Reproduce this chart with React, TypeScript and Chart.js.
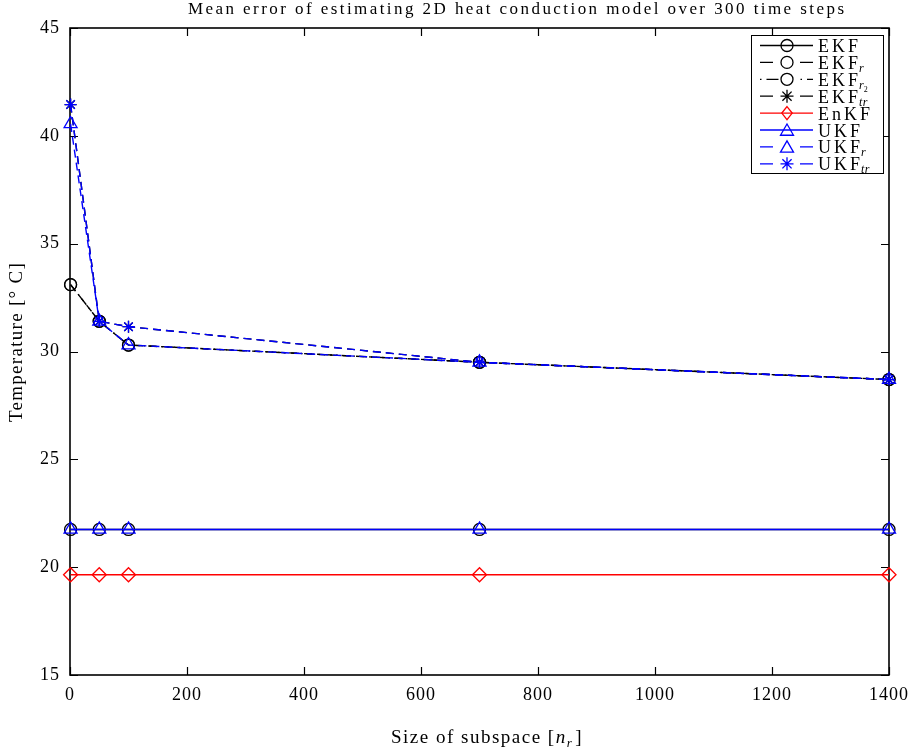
import React, { useEffect, useRef } from "react";
import { Chart, registerables } from "chart.js";

Chart.register(...registerables);

// Subspace sizes on the x axis
const subspaceSizes = [1, 50, 100, 700, 1400];

// Mean estimation error per filter
const ekf = [21.75, 21.75, 21.75, 21.75, 21.75];
const ekfR = [33.1, 31.4, 30.3, 29.5, 28.7];
const ekfR2 = [33.1, 31.4, 30.3, 29.5, 28.7];
const ekfTr = [41.45, 31.4, 31.15, 29.5, 28.7];
const enkf = [19.65, 19.65, 19.65, 19.65, 19.65];
const ukf = [21.75, 21.75, 21.75, 21.75, 21.75];
const ukfR = [40.55, 31.4, 30.3, 29.5, 28.7];
const ukfTr = [41.45, 31.4, 31.15, 29.5, 28.7];

const xTicks = [0, 200, 400, 600, 800, 1000, 1200, 1400];
const yTicks = [15, 20, 25, 30, 35, 40, 45];

const TITLE = "Mean error of estimating 2D heat conduction model over 300 time steps";
const SERIF = '"Liberation Serif", "DejaVu Serif", serif';

type Marker = "circle" | "triangle" | "rectRot" | "star";

interface SeriesStyle {
  label: string;
  sub?: string;
  subsub?: string;
  color: string;
  dash: number[];
  legendDash: number[];
  marker: Marker;
  radius: number;
  values: number[];
}

const DASH = [8, 5];
const DASHDOT = [8, 4, 1.5, 4];
const LEG_DASH = [13, 27];
const LEG_DASHDOT = [1.5, 5, 12, 22];

const series: SeriesStyle[] = [
  { label: "EKF", color: "#000000", dash: [], legendDash: [], marker: "circle", radius: 6, values: ekf },
  { label: "EKF", sub: "r", color: "#000000", dash: DASH, legendDash: LEG_DASH, marker: "circle", radius: 6, values: ekfR },
  { label: "EKF", sub: "r", subsub: "2", color: "#000000", dash: DASHDOT, legendDash: LEG_DASHDOT, marker: "circle", radius: 6, values: ekfR2 },
  { label: "EKF", sub: "tr", color: "#000000", dash: DASH, legendDash: LEG_DASH, marker: "star", radius: 6, values: ekfTr },
  { label: "EnKF", color: "#ff0000", dash: [], legendDash: [], marker: "rectRot", radius: 7, values: enkf },
  { label: "UKF", color: "#0000ff", dash: [], legendDash: [], marker: "triangle", radius: 7.5, values: ukf },
  { label: "UKF", sub: "r", color: "#0000ff", dash: DASH, legendDash: LEG_DASH, marker: "triangle", radius: 7.5, values: ukfR },
  { label: "UKF", sub: "tr", color: "#0000ff", dash: DASH, legendDash: LEG_DASH, marker: "star", radius: 6, values: ukfTr },
];

function drawMarker(ctx: CanvasRenderingContext2D, m: Marker, x: number, y: number, r: number) {
  ctx.beginPath();
  if (m === "circle") {
    ctx.arc(x, y, r, 0, Math.PI * 2);
  } else if (m === "triangle") {
    for (let i = 0; i < 3; i++) {
      const a = (i * 2 * Math.PI) / 3;
      const px = x + Math.sin(a) * r;
      const py = y - Math.cos(a) * r;
      if (i === 0) ctx.moveTo(px, py);
      else ctx.lineTo(px, py);
    }
    ctx.closePath();
  } else if (m === "rectRot") {
    ctx.moveTo(x, y - r);
    ctx.lineTo(x + r * 0.8, y);
    ctx.lineTo(x, y + r);
    ctx.lineTo(x - r * 0.8, y);
    ctx.closePath();
  } else {
    for (let i = 0; i < 4; i++) {
      const a = (i * Math.PI) / 4;
      const dx = Math.cos(a) * r;
      const dy = Math.sin(a) * r;
      ctx.moveTo(x - dx, y - dy);
      ctx.lineTo(x + dx, y + dy);
    }
  }
  ctx.stroke();
}

// Legend label with optional subscript / sub-subscript
function drawSubText(
  ctx: CanvasRenderingContext2D,
  x: number,
  y: number,
  main: string,
  sub?: string,
  subsub?: string
) {
  ctx.textAlign = "left";
  ctx.textBaseline = "alphabetic";
  ctx.font = `18px ${SERIF}`;
  (ctx as any).letterSpacing = "3px";
  ctx.fillText(main, x, y);
  let cx = x + ctx.measureText(main).width - 2;
  (ctx as any).letterSpacing = "0.5px";
  if (sub) {
    ctx.font = `italic 12px ${SERIF}`;
    ctx.fillText(sub, cx, y + 3);
    cx += ctx.measureText(sub).width;
    if (subsub) {
      ctx.font = `8px ${SERIF}`;
      ctx.fillText(subsub, cx - 0.5, y + 6);
    }
  }
  (ctx as any).letterSpacing = "0px";
}

const framePlugin = {
  id: "frame",
  beforeDraw(chart: any) {
    (chart.ctx as any).letterSpacing = "1px";
  },
  beforeDatasetsDraw(chart: any) {
    const { ctx, chartArea: a, scales } = chart;
    (ctx as any).letterSpacing = "0px";
    ctx.save();
    ctx.strokeStyle = "#000";
    ctx.lineWidth = 1.2;
    ctx.setLineDash([]);
    const tl = 8;
    ctx.beginPath();
    for (const v of xTicks) {
      const px = Math.round(scales.x.getPixelForValue(v)) + 0.5;
      ctx.moveTo(px, a.bottom);
      ctx.lineTo(px, a.bottom - tl);
      ctx.moveTo(px, a.top);
      ctx.lineTo(px, a.top + tl);
    }
    for (const v of yTicks) {
      const py = Math.round(scales.y.getPixelForValue(v)) + 0.5;
      ctx.moveTo(a.left, py);
      ctx.lineTo(a.left + tl, py);
      ctx.moveTo(a.right, py);
      ctx.lineTo(a.right - tl, py);
    }
    ctx.stroke();
    ctx.lineWidth = 1.6;
    ctx.strokeRect(a.left, a.top, a.right - a.left, a.bottom - a.top);
    ctx.restore();
  },
  afterDraw(chart: any) {
    const { ctx } = chart;
    ctx.save();
    ctx.fillStyle = "#000";

    // Title, spread to its full width
    ctx.font = `17px ${SERIF}`;
    (ctx as any).letterSpacing = "0px";
    const w0 = ctx.measureText(TITLE).width;
    const target = 656;
    const spacing = Math.max(0, (target - w0) / (TITLE.length - 1));
    (ctx as any).letterSpacing = `${spacing}px`;
    ctx.textAlign = "left";
    ctx.textBaseline = "middle";
    ctx.fillText(TITLE, 188, 10);
    (ctx as any).letterSpacing = "0px";

    // Y axis title
    ctx.save();
    ctx.translate(17, 342);
    ctx.rotate(-Math.PI / 2);
    ctx.font = `19px ${SERIF}`;
    (ctx as any).letterSpacing = "1.3px";
    ctx.textAlign = "center";
    ctx.textBaseline = "middle";
    ctx.fillText("Temperature [\u00B0 C]", 0, 0);
    ctx.restore();
    (ctx as any).letterSpacing = "0px";

    // X axis title with italic n_r
    const ls = 1.5;
    (ctx as any).letterSpacing = `${ls}px`;
    ctx.font = `19px ${SERIF}`;
    const p1 = "Size of subspace [";
    const w1 = ctx.measureText(p1).width;
    ctx.font = `italic 19px ${SERIF}`;
    const wn = ctx.measureText("n").width;
    ctx.font = `italic 13px ${SERIF}`;
    const wr = ctx.measureText("r").width;
    ctx.font = `19px ${SERIF}`;
    const wb = ctx.measureText("]").width;
    const total = w1 + wn + wr + 2 + wb;
    let xx = 487 - total / 2;
    const yb = 743;
    ctx.textBaseline = "alphabetic";
    ctx.textAlign = "left";
    ctx.fillText(p1, xx, yb);
    xx += w1;
    ctx.font = `italic 19px ${SERIF}`;
    ctx.fillText("n", xx, yb);
    xx += wn;
    ctx.font = `italic 13px ${SERIF}`;
    ctx.fillText("r", xx, yb + 4);
    xx += wr + 2;
    ctx.font = `19px ${SERIF}`;
    ctx.fillText("]", xx, yb);
    (ctx as any).letterSpacing = "0px";

    // Legend
    const lx = 751.5, ly = 35.5, lw = 132, lh = 138;
    ctx.fillStyle = "#fff";
    ctx.fillRect(lx, ly, lw, lh);
    ctx.strokeStyle = "#000";
    ctx.lineWidth = 1;
    ctx.setLineDash([]);
    ctx.strokeRect(lx, ly, lw, lh);
    const rowH = 16.9;
    series.forEach((s, i) => {
      const cy = 45.5 + i * rowH;
      ctx.strokeStyle = s.color;
      ctx.lineWidth = 1.3;
      ctx.setLineDash(s.legendDash);
      ctx.beginPath();
      ctx.moveTo(760, cy);
      ctx.lineTo(813, cy);
      ctx.stroke();
      ctx.setLineDash([]);
      const mr = s.marker === "triangle" ? 7.5 : s.marker === "circle" ? 6 : 6.5;
      drawMarker(ctx, s.marker, 787, cy + (s.marker === "triangle" ? 1.5 : 0), mr);
      ctx.fillStyle = "#000";
      drawSubText(ctx, 818, cy + 6.5, s.label, s.sub, s.subsub);
    });
    ctx.restore();
  },
};

export default function App() {
  const canvasRef = useRef<HTMLCanvasElement | null>(null);

  useEffect(() => {
    if (!canvasRef.current) return;
    // Later series are listed first so that they are painted on top
    const datasets = series
      .map((s) => ({
        label: s.label + (s.sub ? "_" + s.sub : "") + (s.subsub || ""),
        data: subspaceSizes.map((x, j) => ({ x, y: s.values[j] })),
        borderColor: s.color,
        backgroundColor: "rgba(0,0,0,0)",
        borderWidth: 1.4,
        borderDash: s.dash,
        pointStyle: s.marker,
        pointRadius: s.radius,
        pointBorderColor: s.color,
        pointBackgroundColor: "rgba(0,0,0,0)",
        pointBorderWidth: 1.3,
        tension: 0,
        fill: false,
        clip: false as any,
      }))
      .reverse();

    const chart = new Chart(canvasRef.current, {
      type: "line",
      data: { datasets },
      options: {
        responsive: false,
        animation: false,
        layout: { padding: { top: 28, right: 26, left: 0, bottom: 0 } },
        plugins: {
          legend: { display: false },
          title: { display: false },
          tooltip: { enabled: false },
        },
        scales: {
          x: {
            type: "linear",
            min: 0,
            max: 1400,
            grid: { display: false, drawTicks: false },
            border: { display: false },
            afterBuildTicks: (sc: any) => {
              sc.ticks = xTicks.map((v) => ({ value: v }));
            },
            afterFit: (sc: any) => {
              sc.height = 76;
            },
            ticks: {
              padding: 9,
              color: "#000",
              font: { family: SERIF, size: 18 },
              maxRotation: 0,
              autoSkip: false,
              callback: (v: any) => String(v),
            },
          },
          y: {
            type: "linear",
            min: 15,
            max: 45,
            grid: { display: false, drawTicks: false },
            border: { display: false },
            afterBuildTicks: (sc: any) => {
              sc.ticks = yTicks.map((v) => ({ value: v }));
            },
            afterFit: (sc: any) => {
              sc.width = 70;
            },
            ticks: {
              padding: 10,
              color: "#000",
              font: { family: SERIF, size: 18 },
              autoSkip: false,
              callback: (v: any) => String(v),
            },
          },
        },
      },
      plugins: [framePlugin],
    });
    return () => chart.destroy();
  }, []);

  return (
    <canvas
      ref={canvasRef}
      width={916}
      height={751}
      style={{ position: "absolute", left: 0, top: 0, background: "#fff" }}
    />
  );
}
